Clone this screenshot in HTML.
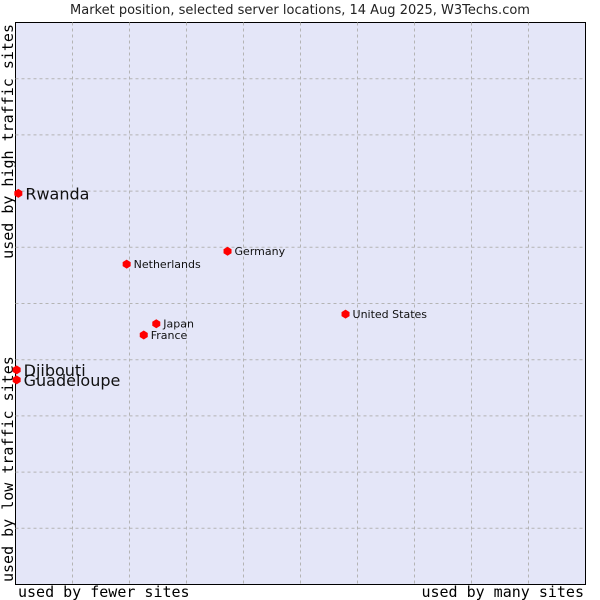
<!DOCTYPE html>
<html><head><meta charset="utf-8"><style>
body{margin:0;background:#fff;}
svg{display:block;}
</style></head><body>
<svg id="chart" width="600" height="600" xmlns="http://www.w3.org/2000/svg">
<text x="300" y="14" text-anchor="middle" font-family="DejaVu Sans, sans-serif" font-size="13" fill="#222">Market position, selected server locations, 14 Aug 2025, W3Techs.com</text>
<rect x="15.5" y="22.5" width="570" height="562" fill="#e4e6f8" stroke="#000" stroke-width="1"/>
<g id="grid"></g>
<text x="18" y="597" font-family="DejaVu Sans Mono, monospace" font-size="15" fill="#000">used by fewer sites</text>
<text x="584" y="597" text-anchor="end" font-family="DejaVu Sans Mono, monospace" font-size="15" fill="#000">used by many sites</text>
<text transform="translate(13,582) rotate(-90)" font-family="DejaVu Sans Mono, monospace" font-size="15" fill="#000">used by low traffic sites</text>
<text transform="translate(13,24) rotate(-90)" text-anchor="end" font-family="DejaVu Sans Mono, monospace" font-size="15" fill="#000">used by high traffic sites</text>
<g id="points"></g>
</svg>
<script>
const names = ["Rwanda","Djibouti","Guadeloupe","Netherlands","Germany","Japan","France","United States"];
const xValues = [0.5,0.2,0.2,19.5,37.2,24.7,22.5,57.9];
const yValues = [69.6,38.2,36.4,57.0,59.3,46.4,44.4,48.1];
const bigLabel = [true,true,true,false,false,false,false,false];
const NS="http://www.w3.org/2000/svg";
const L=15.5,T=22.5,W=570,H=562;
function sx(v){return L+v/100*W;}
function sy(v){return T+H-v/100*H;}
const grid=document.getElementById('grid');
for(let i=1;i<10;i++){
  const v=document.createElementNS(NS,'line');
  v.setAttribute('x1',sx(i*10));v.setAttribute('x2',sx(i*10));v.setAttribute('y1',T);v.setAttribute('y2',T+H);
  v.setAttribute('stroke','#b4b4b4');v.setAttribute('stroke-dasharray','3,3');
  
  
  grid.appendChild(v);
  const h=document.createElementNS(NS,'line');
  h.setAttribute('y1',sy(i*10));h.setAttribute('y2',sy(i*10));h.setAttribute('x1',L);h.setAttribute('x2',L+W);
  h.setAttribute('stroke','#b4b4b4');h.setAttribute('stroke-dasharray','3,3');
  
  
  grid.appendChild(h);
}
const pts=document.getElementById('points');
names.forEach((n,i)=>{
  const x=sx(xValues[i]),y=sy(yValues[i]);
  const c=document.createElementNS(NS,'path');
  c.setAttribute('d',`M${x},${y-4.5}L${x+4},${y-2}L${x+4},${y+2}L${x},${y+4.5}L${x-4},${y+2}L${x-4},${y-2}Z`);
  c.setAttribute('fill','#ff0000');
  
  
  pts.appendChild(c);
  const t=document.createElementNS(NS,'text');
  t.setAttribute('x',x+7);
  t.setAttribute('y',y+(bigLabel[i]?6:4));
  t.setAttribute('font-family','DejaVu Sans, sans-serif');
  t.setAttribute('font-size',bigLabel[i]?16:11);
  t.setAttribute('fill','#111');
  t.textContent=n;
  
  
  pts.appendChild(t);
});
</script>
</body></html>
